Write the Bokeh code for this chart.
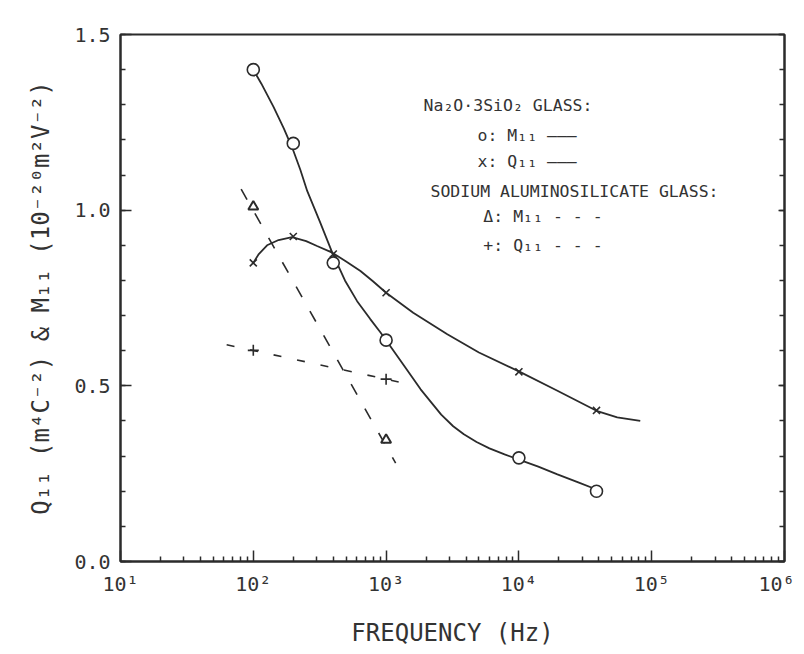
from bokeh.plotting import figure
from bokeh.models import FixedTicker, SingleIntervalTicker, LinearAxis, Label, PrintfTickFormatter
from bokeh.embed import file_html
from bokeh.resources import INLINE

# ---------------- data ----------------
# Na2O.3SiO2 glass, M11 (circles, solid)
na_m_freq = [100, 200, 400, 1000, 10000, 38400]
na_m_val = [1.40, 1.19, 0.85, 0.63, 0.295, 0.20]
na_m_curve_freq = [100, 115, 142, 170, 200, 226, 255, 316, 393, 490, 605, 760, 908, 1000,
                   1350, 1820, 2600, 3200, 3850, 4800, 6000, 7800, 10000, 14000, 19500,
                   28000, 38400]
na_m_curve_val = [1.40, 1.36, 1.294, 1.232, 1.17, 1.115, 1.054, 0.969, 0.879, 0.80, 0.741,
                  0.69, 0.652, 0.63, 0.56, 0.49, 0.418, 0.385, 0.362, 0.34, 0.322, 0.305,
                  0.29, 0.27, 0.248, 0.225, 0.205]

# Na2O.3SiO2 glass, Q11 (x, solid)
na_q_freq = [100, 200, 400, 1000, 10000, 38400]
na_q_val = [0.85, 0.925, 0.875, 0.765, 0.54, 0.43]
na_q_curve_freq = [100, 110, 127, 155, 196, 250, 302, 393, 500, 641, 800, 1000, 1600, 2890,
                   5000, 10000, 19500, 38400, 55000, 82000]
na_q_curve_val = [0.85, 0.875, 0.90, 0.915, 0.923, 0.912, 0.898, 0.879, 0.854, 0.827, 0.797,
                  0.765, 0.708, 0.647, 0.595, 0.541, 0.486, 0.429, 0.41, 0.40]

# Sodium aluminosilicate glass, M11 (triangles, dashed)
al_m_freq = [100, 1000]
al_m_val = [1.01, 0.346]
al_m_line_freq = [81, 1180]
al_m_line_val = [1.06, 0.28]

# Sodium aluminosilicate glass, Q11 (+, dashed)
al_q_freq = [100, 1000]
al_q_val = [0.601, 0.519]
al_q_line_freq = [63, 1480]
al_q_line_val = [0.617, 0.505]

x_tick_values = [10, 100, 1000, 10000, 100000, 1000000]
x_tick_labels = ["10\u00b9", "10\u00b2", "10\u00b3", "10\u2074", "10\u2075", "10\u2076"]

FONT = "DejaVu Sans Mono"
INK = "#2b2b2b"

p = figure(x_axis_type="log", x_range=(10, 1e6), y_range=(0, 1.5),
           frame_width=664, frame_height=527,
           min_border_left=120, min_border_right=10, min_border_top=34, min_border_bottom=85,
           output_backend="svg", toolbar_location=None,
           background_fill_color="white", border_fill_color="white")
p.grid.visible = False
p.outline_line_color = INK
p.outline_line_width = 2

# x axis
xa = p.xaxis[0]
minor = [m * d for d in x_tick_values[:-1] for m in range(2, 10)]
xa.ticker = FixedTicker(ticks=x_tick_values, minor_ticks=minor)
xa.major_label_overrides = {v: s for v, s in zip(x_tick_values, x_tick_labels)}
xa.axis_label = "FREQUENCY (Hz)"

# y axis
ya = p.yaxis[0]
ya.ticker = SingleIntervalTicker(interval=0.5, num_minor_ticks=5)
ya.formatter = PrintfTickFormatter(format="%.1f")
ya.axis_label = "Q\u2081\u2081 (m\u2074C\u207b\u00b2) & M\u2081\u2081 (10\u207b\u00b2\u2070m\u00b2V\u207b\u00b2)"

for ax in (xa, ya):
    ax.axis_line_color = INK
    ax.axis_line_width = 2
    ax.major_tick_in = 11
    ax.major_tick_out = 0
    ax.minor_tick_in = 5
    ax.minor_tick_out = 0
    ax.major_tick_line_color = INK
    ax.minor_tick_line_color = INK
    ax.major_tick_line_width = 1.5
    ax.minor_tick_line_width = 1.5
    ax.major_label_text_font = FONT
    ax.major_label_text_font_size = "20px"
    ax.major_label_text_color = "#333333"
    ax.axis_label_text_font = FONT
    ax.axis_label_text_font_size = "24px"
    ax.axis_label_text_font_style = "normal"
    ax.axis_label_text_color = "#333333"
xa.major_label_standoff = 10
xa.axis_label_standoff = 20
ya.major_label_standoff = 10
ya.axis_label_standoff = 16

# right axis: ticks only
ra = LinearAxis(ticker=SingleIntervalTicker(interval=0.5, num_minor_ticks=5))
ra.major_label_overrides = {0: "", 0.5: "", 1: "", 1.5: ""}
ra.major_label_text_font_size = "10px"
ra.major_label_standoff = 0
ra.major_tick_in = 6
ra.major_tick_out = 0
ra.minor_tick_in = 5
ra.minor_tick_out = 0
ra.axis_line_color = INK
ra.axis_line_width = 2
ra.major_tick_line_color = INK
ra.minor_tick_line_color = INK
ra.major_tick_line_width = 1.5
ra.minor_tick_line_width = 1.5
p.add_layout(ra, "right")

# curves
p.line(na_m_curve_freq, na_m_curve_val, line_color=INK, line_width=1.8)
p.line(na_q_curve_freq, na_q_curve_val, line_color=INK, line_width=1.8)
p.line(al_m_line_freq, al_m_line_val, line_color=INK, line_width=1.6, line_dash="12 16")
p.line(al_q_line_freq, al_q_line_val, line_color=INK, line_width=1.6, line_dash="8 16")

# markers
p.scatter(na_m_freq, na_m_val, marker="circle", size=12, fill_color="white",
          line_color=INK, line_width=1.6)
p.scatter(na_q_freq, na_q_val, marker="x", size=10, line_color=INK, line_width=1.6)
p.scatter(al_m_freq, al_m_val, marker="triangle", size=10, fill_color="white",
          line_color=INK, line_width=2)
p.scatter(al_q_freq, al_q_val, marker="cross", size=11, line_color=INK, line_width=1.6)

# legend text block
legend_rows = [
    (1915, 1.298, "Na\u2082O\u00b73SiO\u2082 GLASS:"),
    (4875, 1.213, "o: M\u2081\u2081 \u2014\u2014\u2014"),
    (4875, 1.139, "x: Q\u2081\u2081 \u2014\u2014\u2014"),
    (2158, 1.054, "SODIUM ALUMINOSILICATE GLASS:"),
    (5400, 0.983, "\u0394: M\u2081\u2081 - - -"),
    (5400, 0.900, "+: Q\u2081\u2081 - - -"),
]
for lx, ly, txt in legend_rows:
    p.add_layout(Label(x=lx, y=ly, text=txt, text_font=FONT, text_font_size="16.5px",
                       text_color="#333333", text_baseline="middle", text_align="left"))

open("out.html", "w").write(file_html(p, INLINE))
